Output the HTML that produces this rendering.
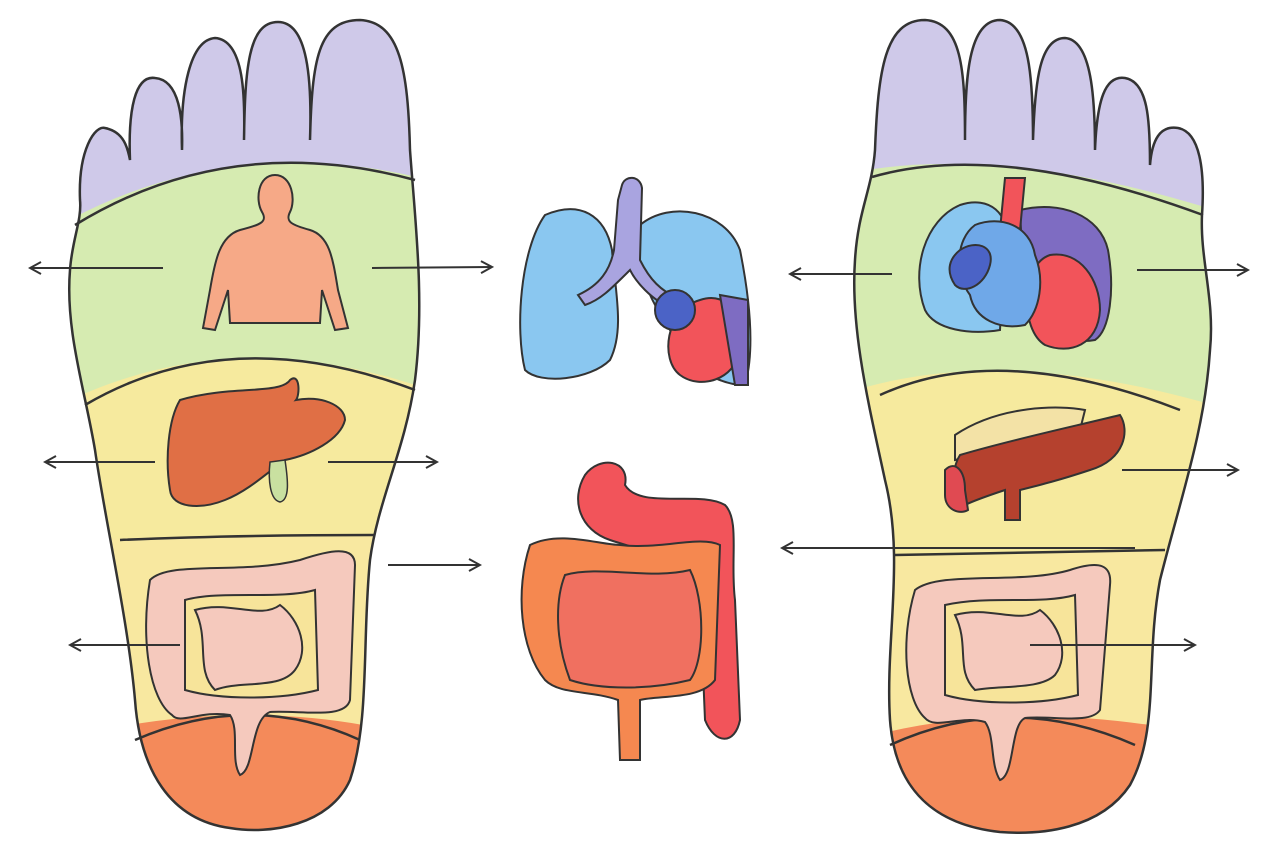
<!DOCTYPE html>
<html><head><meta charset="utf-8"><style>html,body{margin:0;padding:0;background:#fff}svg{display:block}</style></head>
<body>
<svg width="1280" height="853" viewBox="0 0 1280 853" xmlns="http://www.w3.org/2000/svg">
<defs>
<marker id="ah" markerWidth="14" markerHeight="14" refX="12" refY="7" orient="auto" markerUnits="userSpaceOnUse">
<path d="M1,1 L12,7 L1,13" fill="none" stroke="#333" stroke-width="2"/></marker>
<clipPath id="lf"><path id="lfp" d="M80,200 C78,150 95,125 105,128 C125,132 128,150 130,160 C128,110 135,75 155,78 C180,80 183,120 182,150 C180,90 190,40 215,38 C245,40 245,100 244,140 C245,70 248,22 278,22 C308,22 312,80 310,140 C312,60 318,20 360,20 C400,22 408,70 410,150 C415,220 425,300 415,380 C405,450 378,500 370,560 C362,640 370,720 350,780 C330,825 270,835 230,828 C170,820 140,770 135,700 C128,620 105,520 95,450 C85,390 65,330 70,270 C72,240 82,220 80,200 Z"/></clipPath>
<clipPath id="rf"><path id="rfp" d="M875,150 C878,70 885,20 925,20 C962,22 965,70 965,140 C965,80 968,20 1000,20 C1030,22 1033,80 1033,140 C1035,80 1040,38 1065,38 C1092,40 1095,100 1095,150 C1097,100 1105,75 1125,78 C1148,82 1150,120 1150,165 C1152,140 1160,125 1178,128 C1200,132 1205,170 1202,215 C1200,260 1215,300 1210,350 C1205,430 1180,500 1160,580 C1145,660 1160,730 1130,785 C1100,830 1040,835 1000,832 C935,825 895,790 890,720 C885,640 905,560 885,480 C870,410 850,330 855,260 C858,210 872,190 875,150 Z"/></clipPath>
</defs>

<!-- LEFT FOOT -->
<g clip-path="url(#lf)">
<rect x="0" y="0" width="500" height="853" fill="#cfc9e9"/>
<path d="M60,225 Q230,130 430,180 L430,853 L60,853Z" fill="#d6ebb1"/>
<path d="M60,405 Q230,320 430,390 L430,853 L60,853Z" fill="#f6ea9e"/>
<path d="M60,540 Q230,535 430,535 L430,853 L60,853Z" fill="#f8e8a0"/>
<path d="M60,740 Q250,690 430,740 L430,853 L60,853Z" fill="#f48a5a"/>
</g>
<g fill="none" stroke="#333" stroke-width="2.5">
<use href="#lfp"/>
<path d="M75,225 Q230,130 415,180"/>
<path d="M85,405 Q230,320 415,390"/>
<path d="M120,540 Q230,535 375,535"/>
<path d="M135,740 Q250,690 360,740"/>
</g>

<!-- RIGHT FOOT -->
<g clip-path="url(#rf)">
<rect x="840" y="0" width="400" height="853" fill="#cfc9e9"/>
<path d="M840,175 Q1000,140 1230,215 L1230,853 L840,853Z" fill="#d6ebb1"/>
<path d="M840,395 Q1000,340 1230,410 L1230,853 L840,853Z" fill="#f6ea9e"/>
<path d="M840,555 L1230,550 L1230,853 L840,853Z" fill="#f8e8a0"/>
<path d="M840,745 Q1010,690 1230,740 L1230,853 L840,853Z" fill="#f48a5a"/>
</g>
<g fill="none" stroke="#333" stroke-width="2.5">
<use href="#rfp"/>
<path d="M872,177 Q1000,140 1203,215"/>
<path d="M880,395 Q1000,340 1180,410"/>
<path d="M895,555 L1165,550"/>
<path d="M890,745 Q1010,690 1135,745"/>
</g>

<!-- Body silhouette -->
<path d="M275,175 C258,175 255,200 262,212 C268,222 260,225 240,230 C220,236 215,260 210,290 L203,328 L215,330 L228,290 L230,323 L320,323 L322,290 L335,330 L348,328 L338,290 C333,260 330,236 310,230 C292,225 285,222 290,212 C296,200 292,175 275,175Z" fill="#f6a987" stroke="#333" stroke-width="2"/>

<!-- Liver -->
<path d="M180,400 C230,385 280,395 290,380 C300,372 300,395 296,400 C320,395 345,405 345,420 C340,440 310,455 285,460 C270,470 250,490 225,500 C200,510 172,508 170,490 C165,460 168,420 180,400Z" fill="#e06f45" stroke="#333" stroke-width="2"/>
<path d="M270,462 C268,480 270,500 280,502 C290,500 288,480 285,460Z" fill="#c9e0a0" stroke="#333" stroke-width="1.5"/>

<!-- Left intestines -->
<g fill="#f5c9bd" stroke="#333" stroke-width="2">
<path d="M150,580 C170,560 240,575 300,560 C330,550 355,545 355,565 L350,700 C345,720 300,710 270,712 C250,720 255,770 240,775 C230,760 240,730 230,715 C200,710 180,725 172,715 C150,700 140,640 150,580Z"/>
<path d="M185,600 C220,590 280,600 315,590 L318,690 C280,700 220,700 185,690Z" fill="#f7e49a"/>
<path d="M195,610 C230,600 260,620 280,605 C300,620 310,650 295,670 C280,690 240,680 215,690 C195,670 210,640 195,610Z"/>
</g>

<!-- Lungs -->
<g stroke="#333" stroke-width="2">
<path d="M545,215 C580,200 605,215 612,250 C615,290 625,330 610,360 C590,380 540,385 525,370 C515,330 520,250 545,215Z" fill="#8ac7f0"/>
<path d="M640,225 C670,200 725,210 740,250 C750,300 755,350 745,385 C720,385 690,370 670,330 C650,300 630,260 640,225Z" fill="#8ac7f0"/>
<path d="M622,185 C625,175 640,175 642,188 L640,260 C650,280 660,290 680,300 L675,310 C650,300 635,280 630,270 C610,290 600,300 585,305 L578,295 C600,285 610,270 614,250 L618,200Z" fill="#a9a4e0"/>
<path d="M700,300 C730,290 745,320 740,350 C735,380 700,390 680,375 C660,360 665,310 700,300Z" fill="#f2545a"/>
<path d="M720,295 L748,300 L748,385 L735,385Z" fill="#7e6cc2"/>
<circle cx="675" cy="310" r="20" fill="#4b63c6"/>
</g>

<!-- Center GI -->
<g stroke="#333" stroke-width="2">
<path d="M585,475 C600,455 630,460 625,485 C640,510 700,490 725,505 C740,520 730,560 735,600 L740,720 C735,745 715,745 705,720 L700,600 C690,560 640,550 610,540 C580,530 570,500 585,475Z" fill="#f2545a"/>
<path d="M530,545 C560,530 600,545 620,545 C660,550 700,535 720,545 L715,680 C700,700 660,695 640,700 L640,760 L620,760 L618,700 C590,690 560,695 545,680 C520,650 515,590 530,545Z" fill="#f58850"/>
<path d="M565,575 C600,565 650,580 690,570 C705,600 705,660 690,680 C650,690 600,690 570,680 C555,640 555,600 565,575Z" fill="#f07060"/>
</g>

<!-- Heart/lungs right -->
<g stroke="#333" stroke-width="2">
<path d="M960,205 C990,195 1010,215 1005,240 L1000,330 C970,335 935,330 925,310 C910,270 925,220 960,205Z" fill="#8ac7f0"/>
<path d="M1020,210 C1060,200 1100,215 1108,250 C1115,290 1110,330 1095,340 C1070,345 1040,330 1025,310 Z" fill="#7e6cc2"/>
<path d="M1050,255 C1080,250 1100,280 1100,310 C1098,345 1070,355 1045,345 C1020,330 1020,265 1050,255Z" fill="#f2545a"/>
<path d="M1005,178 L1025,178 L1020,230 L1000,230Z" fill="#f2545a"/>
<path d="M975,225 C1000,215 1030,225 1035,255 C1045,280 1040,310 1025,325 C1000,330 975,320 970,295 C955,275 955,240 975,225Z" fill="#6fa8e8"/>
<path d="M960,250 C975,240 995,245 990,265 C985,285 965,295 955,285 C945,270 950,258 960,250Z" fill="#4b63c6"/>
</g>

<!-- Pancreas -->
<g stroke="#333" stroke-width="2">
<path d="M955,435 C1000,405 1060,405 1085,410 L1080,430 C1040,440 980,455 955,460Z" fill="#f3e2a6"/>
<path d="M960,455 C1010,440 1080,425 1120,415 C1130,430 1125,460 1090,470 C1060,480 1040,485 1020,490 L1020,520 L1005,520 L1005,490 C990,495 975,500 965,505 C955,495 950,470 960,455Z" fill="#b5412e"/>
<path d="M945,470 C955,460 965,470 965,490 L968,510 C960,515 945,510 945,495Z" fill="#e04a52"/>
</g>

<!-- Right intestines -->
<g fill="#f5c9bd" stroke="#333" stroke-width="2">
<path d="M915,590 C940,570 1020,585 1070,570 C1100,560 1112,565 1110,585 L1100,710 C1090,725 1050,715 1025,718 C1010,725 1015,775 1000,780 C990,765 995,735 985,722 C960,715 935,730 925,718 C905,700 900,640 915,590Z"/>
<path d="M945,605 C990,595 1040,605 1075,595 L1078,695 C1040,705 980,705 945,695Z" fill="#f7e49a"/>
<path d="M955,615 C990,605 1020,625 1040,610 C1060,625 1070,655 1055,675 C1040,690 1000,685 975,690 C955,670 970,645 955,615Z"/>
</g>

<!-- Arrows -->
<g stroke="#333" stroke-width="2" marker-end="url(#ah)">
<line x1="163" y1="268" x2="30" y2="268"/>
<line x1="372" y1="268" x2="492" y2="267"/>
<line x1="155" y1="462" x2="45" y2="462"/>
<line x1="328" y1="462" x2="437" y2="462"/>
<line x1="388" y1="565" x2="480" y2="565"/>
<line x1="180" y1="645" x2="70" y2="645"/>
<line x1="892" y1="274" x2="790" y2="274"/>
<line x1="1137" y1="270" x2="1248" y2="270"/>
<line x1="1122" y1="470" x2="1238" y2="470"/>
<line x1="1135" y1="548" x2="782" y2="548"/>
<line x1="1030" y1="645" x2="1195" y2="645"/>
</g>
</svg>
</body></html>
